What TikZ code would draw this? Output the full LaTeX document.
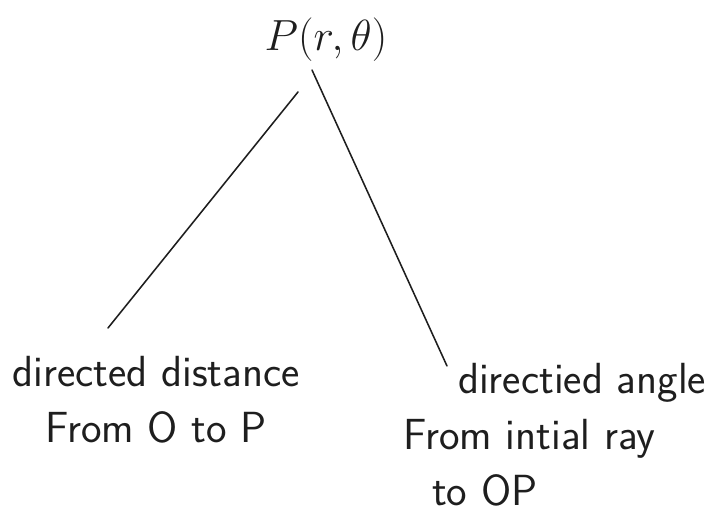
\RequirePackage{fix-cm}
\documentclass[tikz,border=0pt]{standalone}
\usepackage{amsmath,amssymb}
\usepackage{tikz}
\usetikzlibrary{positioning,calc}
\definecolor{inkblack}{RGB}{30,30,30}
\tikzset{
  hand/.style={font=\sffamily\fontsize{31}{40}\selectfont, text=inkblack, inner sep=2pt},
  stroke/.style={draw=inkblack, line width=1.1pt, line cap=round},
}
\begin{document}
\begin{tikzpicture}
  \useasboundingbox (0,0) rectangle (17.9,13.2);
  \node[hand,font=\fontsize{31}{40}\selectfont] (pt) at (8.15,12.2) {$P(r,\theta)$};
  \node[hand,align=center] (dist) at (3.9,3.2) {directed distance\\From O to P};
  \node[hand,align=left,anchor=north west] (ang) at (10.0,4.2) {\hspace{1.375cm}directied angle\\From intial ray\\\hspace{0.725cm}to OP};
  \draw[stroke] ([shift={(-0.7,-1.3)}]pt.center) -- ([shift={(-1.2,1.8)}]dist.center);
  \draw[stroke] ([shift={(-0.35,-0.75)}]pt.center) -- ([shift={(1.175,-0.15)}]ang.north west);
\end{tikzpicture}
\end{document}
